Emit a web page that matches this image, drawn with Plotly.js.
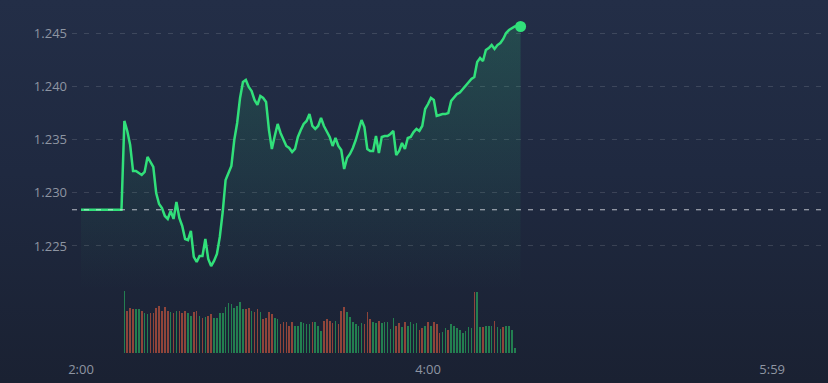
<!DOCTYPE html>
<html>
<head>
<meta charset="utf-8">
<script src="https://cdn.plot.ly/plotly-3.0.1.min.js"></script>
<style>
  html, body { margin: 0; padding: 0; width: 828px; height: 383px; overflow: hidden;
    background: linear-gradient(180deg, #232e47 0%, #1f2940 45%, #1a2132 100%); }
  #chart { width: 828px; height: 383px; }
</style>
</head>
<body>
<div id="chart"></div>
<script>
// ---- data (minutes after 2:00) ----
const prevClose = 1.2284;

const prices = [
  1.2284, 1.2284, 1.2284, 1.2284, 1.2284, 1.2284, 1.2284, 1.2284, 1.2284, 1.2284,
  1.2284, 1.2284, 1.2284, 1.2284, 1.2284,
  1.23674, 1.23580, 1.23448, 1.23204, 1.23204, 1.23185, 1.23167, 1.23195, 1.23336, 1.23289,
  1.23242, 1.22998, 1.22894, 1.22857, 1.22782, 1.22754, 1.22829, 1.22754, 1.22913, 1.22763,
  1.22688, 1.22566, 1.22556, 1.22641, 1.22397, 1.22350, 1.22406, 1.22406, 1.22566, 1.22378,
  1.22312, 1.22359, 1.22425, 1.22585, 1.22819, 1.23120, 1.23185, 1.23251, 1.23495, 1.23655,
  1.23890, 1.24040, 1.24059, 1.23993, 1.23955, 1.23871, 1.23824, 1.23908, 1.23890, 1.23852,
  1.23589, 1.23411, 1.23533, 1.23646, 1.23561, 1.23495, 1.23439, 1.23420, 1.23383, 1.23411,
  1.23524, 1.23589, 1.23646, 1.23674, 1.23739, 1.23627, 1.23599, 1.23627, 1.23702, 1.23627,
  1.23580, 1.23524, 1.23439, 1.23514, 1.23439, 1.23401, 1.23223, 1.23326, 1.23364, 1.23420,
  1.23495, 1.23580, 1.23683, 1.23617, 1.23411, 1.23392, 1.23392, 1.23533, 1.23373, 1.23524,
  1.23533, 1.23533, 1.23552, 1.23580, 1.23354, 1.23392, 1.23467, 1.23411, 1.23514, 1.23524,
  1.23570, 1.23599, 1.23580, 1.23627, 1.23786, 1.23833, 1.23890, 1.23871, 1.23721, 1.23730,
  1.23739, 1.23739, 1.23749, 1.23862, 1.23890, 1.23927, 1.23941, 1.23974, 1.24002, 1.24031,
  1.24068, 1.24087, 1.24228, 1.24265, 1.24237, 1.24340, 1.24359, 1.24387, 1.24350, 1.24387,
  1.24406, 1.24444, 1.24500, 1.24528, 1.24547, 1.24561, 1.24566, 1.24561
];

const volumeStart = 15; // first minute with a volume bar
const volumes = [
  62.3, 41.7, 44.7, 43.7, 43.7, 43.7, 41.7, 39.7, 38.7, 39.7, 39.7, 44.7, 47.0, 42.0, 45.7, 41.7,
  40.7, 39.7, 41.7, 41.7, 39.7, 41.7, 39.7, 36.7, 40.7, 41.7, 36.7, 34.7, 35.7, 36.7, 38.7, 34.7,
  34.7, 39.7, 39.7, 45.7, 49.7, 48.7, 44.7, 46.7, 50.7, 43.7, 43.7, 44.7, 41.7, 40.7, 43.7, 40.7,
  33.7, 34.7, 40.7, 38.7, 34.7, 33.7, 28.7, 30.7, 30.7, 26.7, 30.7, 26.7, 26.7, 30.7, 29.7, 28.7,
  28.7, 30.7, 30.7, 26.7, 21.7, 31.7, 33.7, 31.7, 29.7, 31.7, 28.7, 41.7, 45.7, 40.7, 35.7, 30.7,
  28.7, 26.7, 29.7, 28.7, 40.7, 33.7, 30.7, 29.7, 31.7, 29.7, 30.7, 30.7, 23.7, 34.7, 26.7, 29.7,
  25.7, 30.7, 26.7, 30.7, 28.7, 29.7, 23.0, 24.7, 26.7, 30.7, 26.7, 30.7, 28.7, 19.7, 20.7, 24.7,
  23.3, 28.7, 26.7, 24.7, 22.7, 19.7, 21.7, 25.7, 24.7, 60.7, 60.7, 25.7, 25.7, 26.7, 26.7, 26.7,
  31.7, 25.7, 23.7, 25.7, 26.7, 26.7, 23.3, 4.7
];
const volumeDirection = (
  "GRRRGGRGGRRRRRRR" + "GRGRRRGGRRGRGRRG" + "GGGGGGGGGGRRGRRG" + "RRRRGGRRRRRGGGGG" +
  "GRGGGRRRRGRRRGGG" + "GGGRRRGGRGGGGGRR" + "GRGGGGRRGRGRRRGG" + "RGGGGGGGGRGGRGGG" +
  "RGGRGGGG").split("");

const xTickMinutes = [0, 120, 239];
const xTickLabels = ["2:00", "4:00", "5:59"];
const yTickValues = [1.225, 1.230, 1.235, 1.240, 1.245];
const yTickLabels = ["1.225", "1.230", "1.235", "1.240", "1.245"];

// ---- build traces ----
const priceX = prices.map((_, i) => i);
const volX = volumes.map((_, i) => volumeStart + i);
const GREEN = "#31e07a";
const volColors = volumeDirection.map(d => d === "G" ? "rgba(38,150,88,0.8)" : "rgba(172,78,60,0.8)");

const lastI = prices.length - 1;

const traces = [
  {
    type: "bar", x: volX, y: volumes, xaxis: "x", yaxis: "y2",
    marker: { color: volColors, line: { width: 0 } }, width: 0.55,
    hoverinfo: "skip"
  },
  {
    type: "scatter", mode: "lines", x: priceX, y: prices, xaxis: "x", yaxis: "y",
    line: { color: GREEN, width: 2.5 },
    fill: "tozeroy",
    fillgradient: {
      type: "vertical", start: 1.2208, stop: 1.2466,
      colorscale: [[0, "rgba(49,224,122,0)"], [1, "rgba(49,224,122,0.17)"]]
    },
    hoverinfo: "skip"
  },
  {
    type: "scatter", mode: "markers", x: [priceX[lastI]], y: [prices[lastI]],
    marker: { color: GREEN, size: 11 }, hoverinfo: "skip"
  }
];

const tickFont = { family: "Open Sans, Noto Sans, sans-serif", size: 13, color: "#8e95a2" };

const layout = {
  width: 828, height: 383,
  margin: { l: 72, r: 0, t: 0, b: 30 },
  paper_bgcolor: "rgba(0,0,0,0)", plot_bgcolor: "rgba(0,0,0,0)",
  showlegend: false,
  bargap: 0,
  xaxis: {
    range: [-3.11, 258.3], tickmode: "array", tickvals: xTickMinutes, ticktext: xTickLabels,
    showgrid: false, zeroline: false, showline: false, ticks: "", tickfont: tickFont,
    ticklabelstandoff: 7, fixedrange: true
  },
  yaxis: {
    domain: [0, 1], range: [1.21495, 1.2481], tickmode: "array",
    tickvals: yTickValues, ticktext: yTickLabels,
    showgrid: true, gridcolor: "rgba(255,255,255,0.13)", gridwidth: 1, griddash: "5px,7px",
    zeroline: false, showline: false, ticks: "", tickfont: tickFont, ticklabelstandoff: 4,
    fixedrange: true
  },
  yaxis2: { domain: [0, 0.1785], range: [0, 63], visible: false, fixedrange: true },
  shapes: [{
    type: "line", xref: "paper", x0: 0, x1: 1, yref: "y", y0: prevClose, y1: prevClose,
    line: { color: "rgba(225,228,234,0.8)", width: 1, dash: "5px,7px" }, layer: "above"
  }]
};

Plotly.newPlot("chart", traces, layout, { displayModeBar: false, staticPlot: true });
</script>
</body>
</html>
